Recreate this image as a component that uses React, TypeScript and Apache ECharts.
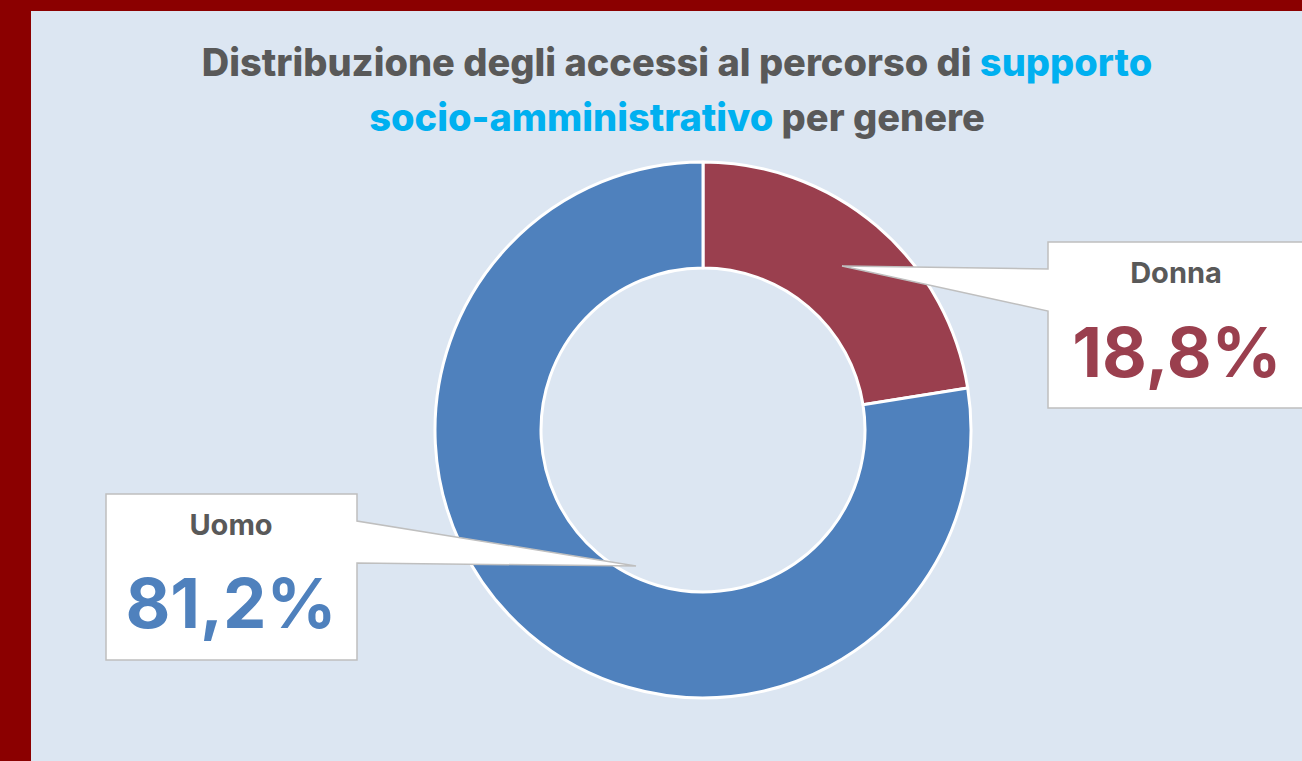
import React, { useEffect, useRef } from "react";
import * as echarts from "echarts";

const categories = ["Donna", "Uomo"];
// slice shares as drawn in the reference (geometry), and the printed labels
const sliceShares = [22.5, 77.5];
const labelTexts = ["18,8%", "81,2%"];
const sliceColors = ["#9A3F4E", "#4F81BD"];

const FONT = "Inter, 'Noto Sans', sans-serif";

export default function App() {
  const ref = useRef<HTMLDivElement>(null);
  useEffect(() => {
    if (!ref.current) return;
    const chart = echarts.init(ref.current, undefined, { renderer: "svg" });
    const gray = "#595959";
    const box = { fill: "#FFFFFF", stroke: "#BFBFBF", lineWidth: 1.5 };
    chart.setOption({
      animation: false,
      backgroundColor: "#8B0000",
      graphic: [
        {
          type: "rect",
          z: -10,
          silent: true,
          shape: { x: 31, y: 11, width: 1302, height: 761 },
          style: { fill: "#DCE6F2" },
        },
        {
          type: "text",
          z: 50,
          x: 677,
          y: 34,
          style: {
            text:
              "{g|Distribuzione degli accessi al percorso di }{b|supporto}\n{b|socio-amministrativo}{g| per genere}",
            textAlign: "center",
            textVerticalAlign: "top",
            rich: {
              g: { fill: gray, fontSize: 38, fontWeight: 800, fontFamily: FONT, lineHeight: 55 },
              b: { fill: "#00B0F0", fontSize: 38, fontWeight: 800, fontFamily: FONT, lineHeight: 55 },
            },
          },
        },
        {
          type: "polygon",
          z: 100,
          shape: {
            points: [
              [1048, 242],
              [1320, 242],
              [1320, 408],
              [1048, 408],
              [1048, 311],
              [842, 266],
              [1048, 269],
            ],
          },
          style: box,
        },
        {
          type: "text",
          z: 101,
          x: 1176,
          y: 272,
          style: {
            text: categories[0],
            fill: gray,
            font: `700 29px ${FONT}`,
            textAlign: "center",
            textVerticalAlign: "middle",
          },
        },
        {
          type: "text",
          z: 101,
          x: 1177,
          y: 352,
          style: {
            text: labelTexts[0],
            fill: sliceColors[0],
            font: `700 69px ${FONT}`,
            textAlign: "center",
            textVerticalAlign: "middle",
          },
        },
        {
          type: "polygon",
          z: 100,
          shape: {
            points: [
              [106, 494],
              [357, 494],
              [357, 521],
              [636, 566],
              [357, 563],
              [357, 660],
              [106, 660],
            ],
          },
          style: box,
        },
        {
          type: "text",
          z: 101,
          x: 231,
          y: 524,
          style: {
            text: categories[1],
            fill: gray,
            font: `700 29px ${FONT}`,
            textAlign: "center",
            textVerticalAlign: "middle",
          },
        },
        {
          type: "text",
          z: 101,
          x: 231,
          y: 603,
          style: {
            text: labelTexts[1],
            fill: sliceColors[1],
            font: `700 69px ${FONT}`,
            textAlign: "center",
            textVerticalAlign: "middle",
          },
        },
      ],
      series: [
        {
          type: "pie",
          center: [703, 430],
          radius: [162, 268],
          startAngle: 90,
          clockwise: true,
          label: { show: false },
          labelLine: { show: false },
          silent: true,
          itemStyle: { borderColor: "#FFFFFF", borderWidth: 3 },
          data: categories.map((c, i) => ({
            name: c,
            value: sliceShares[i],
            itemStyle: { color: sliceColors[i] },
          })),
        },
      ],
    });
    return () => chart.dispose();
  }, []);
  return (
    <div
      ref={ref}
      style={{ position: "fixed", left: 0, top: 0, width: 1302, height: 761 }}
    />
  );
}
